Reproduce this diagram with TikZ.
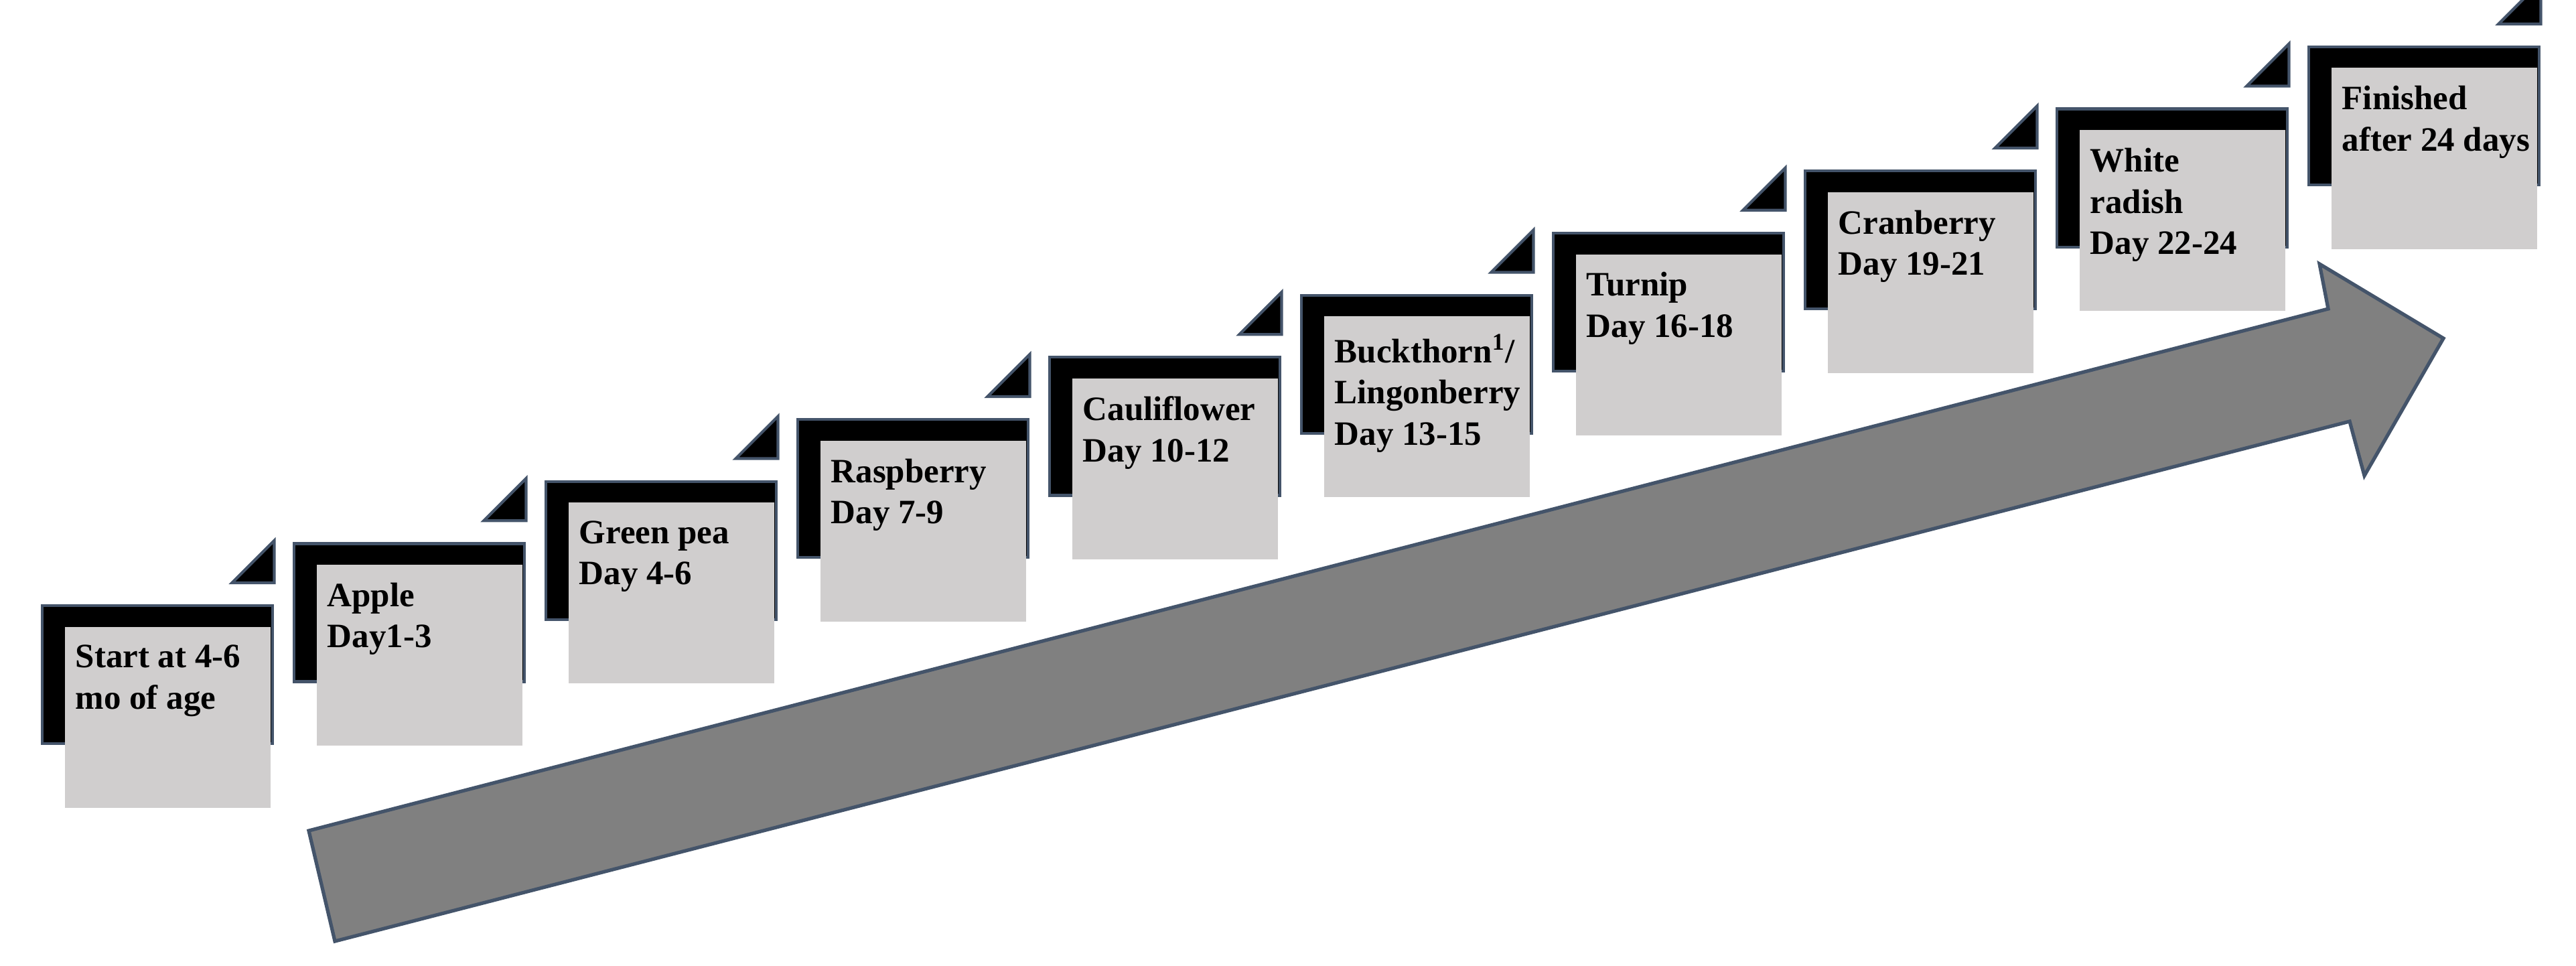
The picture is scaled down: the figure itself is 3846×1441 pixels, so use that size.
\documentclass[tikz,border=0pt]{standalone}
\usepackage{fontspec}
\setmainfont{Liberation Serif}
\usetikzlibrary{positioning}
\definecolor{edge}{HTML}{44546A}
\definecolor{card}{HTML}{D0CECE}
\definecolor{bigarrow}{HTML}{808080}
\tikzstyle{B} = [rectangle, draw=edge, line width=1.2pt, fill=black,
			minimum width=3.44cm, minimum height=2.06cm, inner sep=0pt, anchor=north west]
\tikzstyle{G} = [rectangle, fill=card,
			minimum width=3.07cm, minimum height=2.70cm, inner sep=0pt, anchor=north west]
\tikzstyle{T} = [anchor=north west, font=\bfseries\fontsize{14.5}{17.5}\selectfont,
			align=left, inner sep=0pt]

\begin{document}
\begin{tikzpicture}[x=0.01cm, y=-0.01cm]

\useasboundingbox (0,0) rectangle (3846,1441);

% big arrow
\draw[edge, line width=1.5pt, fill=bigarrow]
	(461,1240) -- (3476,461) -- (3463,394) -- (3648,505)
	-- (3530,710) -- (3508,629) -- (500,1405) -- cycle;

% steps
\foreach \i/\txt in {0/{Start at 4-6\\mo of age}, 1/{Apple\\Day1-3},
			2/{Green pea\\Day 4-6}, 3/{Raspberry\\Day 7-9},
			4/{Cauliflower\\Day 10-12}, 5/{Buckthorn\textsuperscript{1}/\\Lingonberry\\Day 13-15},
			6/{Turnip\\Day 16-18}, 7/{Cranberry\\Day 19-21},
			8/{White\\radish\\Day 22-24}, 9/{Finished\\after 24 days}}
{
\node [B] (b\i) at (61+376*\i, 902-92.7*\i) {};

\node [G] (g\i) at (96+376*\i, 935-92.7*\i) {};

\node [T] (t\i) at ([xshift=0.16cm, yshift=-0.27cm]g\i.north west) {\txt};

\draw[edge, line width=1.2pt, fill=black]
	([yshift=0.95cm]b\i.north east) -- ([yshift=0.32cm]b\i.north east)
	-- ([xshift=-0.63cm, yshift=0.32cm]b\i.north east) -- cycle;
}

\end{tikzpicture}
\end{document}
